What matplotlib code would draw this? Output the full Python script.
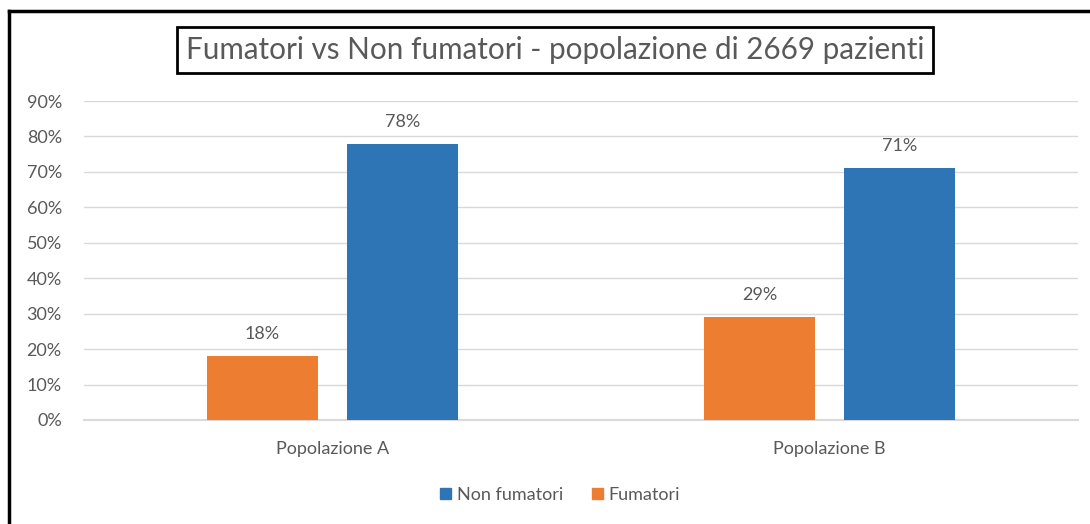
import matplotlib
matplotlib.use('Agg')
import numpy as np
import matplotlib.pyplot as plt
from matplotlib.lines import Line2D
from matplotlib.patches import Patch

plt.rcParams['font.family']=['Lato','DejaVu Sans']

categories=['Popolazione A','Popolazione B']
fumatori=[0.18,0.29]
non_fumatori=[0.78,0.71]
yticks=[0,.1,.2,.3,.4,.5,.6,.7,.8,.9]
title='Fumatori vs Non fumatori - popolazione di 2669 pazienti'

ORANGE='#ED7D31'; BLUE='#2E75B6'; GREY='#595959'; GRID='#D9D9D9'

fig=plt.figure(figsize=(10.9,5.24),dpi=100)
ax=fig.add_axes([84/1090,1-420/524,994/1090,319/524])
x=np.arange(len(categories)); w=.223; off=.141
b1=ax.bar(x-off,fumatori,w,color=ORANGE,zorder=3)
b2=ax.bar(x+off,non_fumatori,w,color=BLUE,zorder=3)
for bars,vals in [(b1,fumatori),(b2,non_fumatori)]:
    for b,v in zip(bars,vals):
        ax.annotate(f'{v:.0%}',(b.get_x()+b.get_width()/2,v),xytext=(0,10),textcoords='offset points',
                    ha='center',va='bottom',fontsize=13,color=GREY)
ax.set_xlim(-.5,1.5); ax.set_ylim(0,.9)
ax.set_yticks(yticks); ax.set_yticklabels([f'{t:.0%}' for t in yticks])
ax.set_xticks(x); ax.set_xticklabels(categories)
ax.tick_params(length=0,colors=GREY,labelsize=13)
ax.tick_params(axis='x',pad=15); ax.tick_params(axis='y',pad=16)
ax.grid(axis='y',color=GRID,lw=1,zorder=0)
ax.axhline(0,color=GRID,lw=1.5,zorder=2,clip_on=False)
for s in ax.spines.values(): s.set_visible(False)

fig.text(555/1090,1-50/524,title,ha='center',va='center',fontsize=21.3,color=GREY,
         bbox=dict(boxstyle='square,pad=0.3',fc='white',ec='black',lw=2))
handles=[Patch(color=BLUE),Patch(color=ORANGE)]
fig.legend(handles,['Non fumatori','Fumatori'],loc='center',bbox_to_anchor=(560/1090,1-495/524),ncol=2,
           frameon=False,fontsize=13,labelcolor=GREY,handlelength=.6,handleheight=.6,handletextpad=.3,columnspacing=1.6)
fig.add_artist(Line2D([9/1090,9/1090],[0,1-11/524],color='black',lw=2.5,transform=fig.transFigure))
fig.add_artist(Line2D([9/1090,1],[1-11/524,1-11/524],color='black',lw=2.5,transform=fig.transFigure))
fig.savefig('out.png',dpi=100)
